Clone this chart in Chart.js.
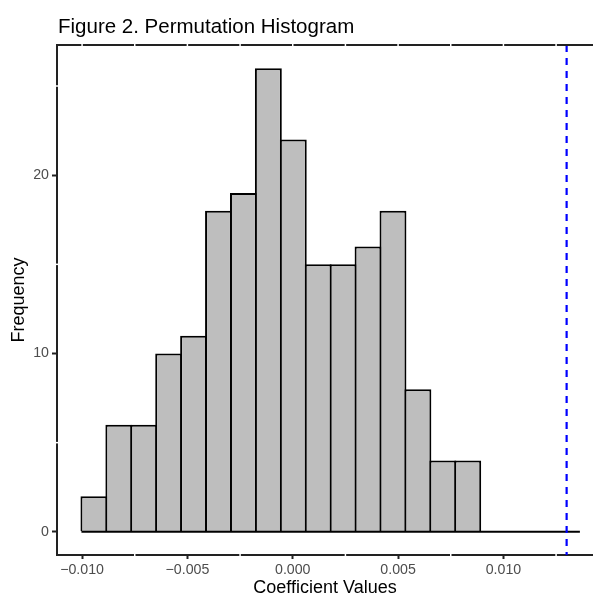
<!DOCTYPE html>
<html>
<head>
<meta charset="utf-8">
<script src="https://cdn.jsdelivr.net/npm/chart.js@4.4.1/dist/chart.umd.min.js"></script>
<style>
html,body{margin:0;padding:0;background:#fff;overflow:hidden}
canvas{display:block}
</style>
</head>
<body>
<canvas id="c" width="593" height="595"></canvas>
<script>
// ---- data ----
const titleText = 'Figure 2. Permutation Histogram';
const xTitleText = 'Coefficient Values';
const yTitleText = 'Frequency';

const binEdges = [-0.01003, -0.008847, -0.007664, -0.006481, -0.005298, -0.004115,
  -0.002932, -0.001749, -0.000566, 0.000617, 0.001800, 0.002983, 0.004166,
  0.005349, 0.006532, 0.007715, 0.008898, 0.010081, 0.011264, 0.012447, 0.013630];
const counts = [2, 6, 6, 10, 11, 18, 19, 26, 22, 15, 15, 16, 18, 8, 4, 4, 0, 0, 0, 0];
const observedValue = 0.0130;

const xTickValues = [-0.010, -0.005, 0.000, 0.005, 0.010];
const xTickLabels = ['\u22120.010', '\u22120.005', '0.000', '0.005', '0.010'];
const xMinorBreaks = [-0.0075, -0.0025, 0.0025, 0.0075, 0.0125];
const yTickValues = [0, 10, 20];
const yTickLabels = ['0', '10', '20'];
const yMinorBreaks = [5, 15, 25];

// ---- derived ----
const X_MIN = -0.01119, X_MAX = 0.014252;
const Y_MIN = -1.3, Y_MAX = 27.3;
const barData = counts.map((c, i) => ({ x: (binEdges[i] + binEdges[i + 1]) / 2, y: c }));
const baseData = [{ x: binEdges[0], y: 0 }, { x: binEdges[binEdges.length - 1], y: 0 }];
const vlineData = [{ x: observedValue, y: Y_MAX }, { x: observedValue, y: Y_MIN }];

const FONT = '"Liberation Sans", Arial, Helvetica, sans-serif';
const AXIS_COL = '#222222';

const decor = {
  id: 'decor',
  afterDraw(chart) {
    const { ctx, chartArea: a, scales: { x, y } } = chart;
    ctx.save();
    // top border line
    ctx.fillStyle = AXIS_COL;
    ctx.fillRect(a.left - 1, a.top - 1, a.right - a.left + 1, 2);
    // white gaps where the (white) grid lines cross the border lines
    ctx.fillStyle = '#ffffff';
    xTickValues.concat(xMinorBreaks).forEach(v => {
      const px = x.getPixelForValue(v);
      ctx.fillRect(px - 0.75, a.top - 1.5, 1.5, 3);
    });
    xMinorBreaks.forEach(v => {
      const px = x.getPixelForValue(v);
      ctx.fillRect(px - 0.75, a.bottom - 1.5, 1.5, 3);
    });
    yMinorBreaks.forEach(v => {
      const py = y.getPixelForValue(v);
      ctx.fillRect(a.left - 1.5, py - 0.75, 3, 1.5);
    });
    // main title
    ctx.fillStyle = '#000000';
    ctx.font = '20.5px ' + FONT;
    ctx.textAlign = 'left';
    ctx.textBaseline = 'alphabetic';
    ctx.fillText(titleText, 58, 33);
    ctx.restore();
  }
};

new Chart(document.getElementById('c'), {
  type: 'bar',
  data: {
    datasets: [
      {
        type: 'line', data: vlineData, borderColor: '#0000ff', borderWidth: 2.2,
        borderDash: [7, 6], pointRadius: 0, order: 0, tension: 0
      },
      {
        type: 'line', data: baseData, borderColor: '#000000', borderWidth: 2,
        pointRadius: 0, order: 1, tension: 0
      },
      {
        type: 'bar', data: barData, backgroundColor: '#bebebe', borderColor: '#000000',
        borderWidth: 2, borderSkipped: 'bottom', barPercentage: 1.08,
        categoryPercentage: 1, order: 2
      }
    ]
  },
  options: {
    responsive: false,
    devicePixelRatio: 1,
    animation: false,
    layout: { padding: { top: 45, left: 0, right: 0, bottom: 0 } },
    plugins: { legend: { display: false }, tooltip: { enabled: false }, title: { display: false } },
    scales: {
      x: {
        type: 'linear', min: X_MIN, max: X_MAX, offset: false,
        afterFit(s) { s.height = 40; },
        afterBuildTicks(s) { s.ticks = xTickValues.map(v => ({ value: v })); },
        grid: { display: true, drawOnChartArea: false, drawTicks: true, tickLength: 4,
                tickColor: AXIS_COL, tickWidth: 2, offset: false },
        border: { display: true, color: AXIS_COL, width: 2 },
        ticks: {
          autoSkip: false, maxRotation: 0, minRotation: 0, padding: 3, color: '#4d4d4d',
          font: { family: FONT, size: 14.2 },
          callback: (v, i) => xTickLabels[i]
        },
        title: { display: true, text: xTitleText, color: '#000000',
                 font: { family: FONT, size: 18 }, padding: { top: 0, bottom: -4.3 } }
      },
      y: {
        type: 'linear', min: Y_MIN, max: Y_MAX,
        afterFit(s) { s.width = 57; },
        afterBuildTicks(s) { s.ticks = yTickValues.map(v => ({ value: v })); },
        grid: { display: true, drawOnChartArea: false, drawTicks: true, tickLength: 5,
                tickColor: AXIS_COL, tickWidth: 2 },
        border: { display: true, color: AXIS_COL, width: 2 },
        ticks: {
          autoSkip: false, padding: 3, color: '#4d4d4d',
          font: { family: FONT, size: 14.2 },
          callback: (v, i) => yTickLabels[i]
        },
        title: { display: true, text: yTitleText, color: '#000000',
                 font: { family: FONT, size: 18 }, padding: { top: 8.5, bottom: 0 } }
      }
    }
  },
  plugins: [decor]
});
</script>
</body>
</html>
